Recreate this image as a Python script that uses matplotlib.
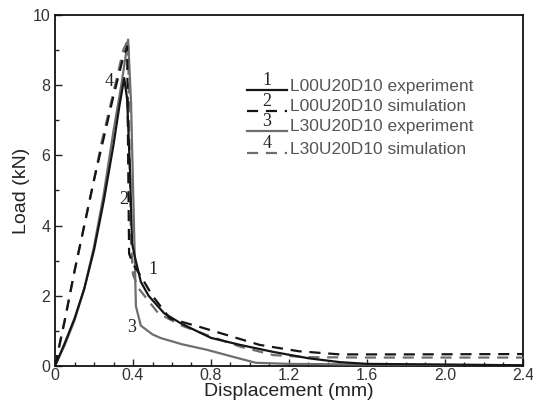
import matplotlib
matplotlib.use("Agg")
import matplotlib.pyplot as plt
from matplotlib.lines import Line2D
from matplotlib.ticker import MultipleLocator

# ---- data ----
x1 = [0, 0.05, 0.10, 0.15, 0.20, 0.25, 0.30, 0.33, 0.355, 0.37, 0.385, 0.395, 0.41, 0.44, 0.48, 0.56, 0.65, 0.80, 0.95, 1.12, 1.30, 1.46, 1.60, 2.0, 2.4]
y1 = [0, 0.65, 1.35, 2.2, 3.3, 4.7, 6.3, 7.4, 8.2, 7.6, 5.5, 3.5, 3.1, 2.4, 2.0, 1.5, 1.2, 0.8, 0.6, 0.4, 0.22, 0.11, 0.06, 0.04, 0.02]

x2 = [0, 0.05, 0.10, 0.15, 0.20, 0.25, 0.30, 0.35, 0.37, 0.375, 0.38, 0.40, 0.43, 0.50, 0.59, 0.75, 0.90, 1.05, 1.25, 1.46, 1.8, 2.4]
y2 = [0, 1.3, 2.7, 4.0, 5.3, 6.5, 7.7, 8.8, 9.1, 6.0, 3.2, 2.9, 2.65, 2.0, 1.35, 1.1, 0.85, 0.6, 0.42, 0.33, 0.33, 0.34]

x3 = [0, 0.05, 0.10, 0.15, 0.20, 0.25, 0.30, 0.34, 0.375, 0.39, 0.405, 0.415, 0.44, 0.50, 0.54, 0.65, 0.78, 0.90, 1.03, 1.2, 1.6, 2.05, 2.4]
y3 = [0, 0.6, 1.3, 2.2, 3.4, 4.9, 6.7, 8.0, 9.3, 7.5, 4.0, 1.7, 1.15, 0.9, 0.8, 0.62, 0.46, 0.28, 0.09, 0.06, 0.04, 0.03, 0.02]

x4 = [0, 0.05, 0.10, 0.15, 0.20, 0.24, 0.30, 0.35, 0.375, 0.38, 0.39, 0.40, 0.43, 0.53, 0.65, 0.78, 0.95, 1.12, 1.3, 1.6, 2.4]
y4 = [0, 1.3, 2.7, 4.0, 5.3, 6.4, 7.8, 9.0, 9.3, 7.0, 3.5, 2.6, 2.2, 1.5, 1.15, 0.88, 0.55, 0.31, 0.25, 0.24, 0.24]

labels = ["L00U20D10 experiment", "L00U20D10 simulation",
          "L30U20D10 experiment", "L30U20D10 simulation"]
numbers = ["1", "2", "3", "4"]
num_pos = [(0.48, 2.75), (0.33, 4.75), (0.37, 1.1), (0.255, 8.1)]

xticks = [0, 0.4, 0.8, 1.2, 1.6, 2.0, 2.4]
xticklabels = ["0", "0.4", "0.8", "1.2", "1.6", "2.0", "2.4"]
yticks = [0, 2, 4, 6, 8, 10]

BLACK = "#151515"
GRAY = "#6e6e6e"
styles = [
    dict(color=BLACK, ls="-", lw=1.6),
    dict(color=BLACK, ls=(0, (5, 3.5)), lw=1.6),
    dict(color=GRAY, ls="-", lw=1.6),
    dict(color=GRAY, ls=(0, (5, 3.5)), lw=1.6),
]

plt.rcParams['font.family'] = ['Liberation Sans', 'DejaVu Sans']
fig = plt.figure(figsize=(5.33, 4.12), dpi=100)
ax = fig.add_axes([0.1032, 0.1117, 0.878, 0.852])

series = [(x1, y1), (x2, y2), (x3, y3), (x4, y4)]
for i in [3, 2, 1, 0]:
    xs, ys = series[i]
    ax.plot(xs, ys, **styles[i], zorder=3 + (i < 2))

for n, (px, py) in zip(numbers, num_pos):
    ax.text(px, py, n, fontsize=13, family=['Liberation Serif'], color="#222222",
            ha="left", va="center")

ax.set_xlim(0, 2.4)
ax.set_ylim(0, 10)
ax.set_xticks(xticks)
ax.set_xticklabels(xticklabels)
ax.set_yticks(yticks)
ax.xaxis.set_minor_locator(MultipleLocator(0.1))
ax.yaxis.set_minor_locator(MultipleLocator(1))
ax.tick_params(which="both", direction="in", top=False, right=False, colors="#222222",
               labelcolor="#333333", labelsize=11.5)
ax.tick_params(which="major", length=5, width=1)
ax.tick_params(which="minor", length=3, width=1)
ax.tick_params(axis="x", pad=1.5)
for s in ax.spines.values():
    s.set_linewidth(1.3)
    s.set_color("#111111")
ax.set_xlabel("Displacement (mm)", fontsize=14, color="#222222", labelpad=0)
ax.set_ylabel("Load (kN)", fontsize=14, color="#222222", labelpad=2)

# manual legend (line sample with a number above it)
lx0, lx1 = 0.4104, 0.4957
row_y = [0.785, 0.726, 0.669, 0.606]
for i in range(4):
    ax.add_line(Line2D([lx0, lx1], [row_y[i], row_y[i]], transform=ax.transAxes,
                       **styles[i]))
    ax.text((lx0 + lx1) / 2, row_y[i] + 0.004, numbers[i], transform=ax.transAxes,
            fontsize=13, family=['Liberation Serif'], color="#222222",
            ha="center", va="bottom")
    ax.text(lx1 + 0.006, row_y[i] + 0.012, labels[i], transform=ax.transAxes,
            fontsize=12.5, color="#555555", ha="left", va="center")

fig.savefig("out.png", dpi=100)
